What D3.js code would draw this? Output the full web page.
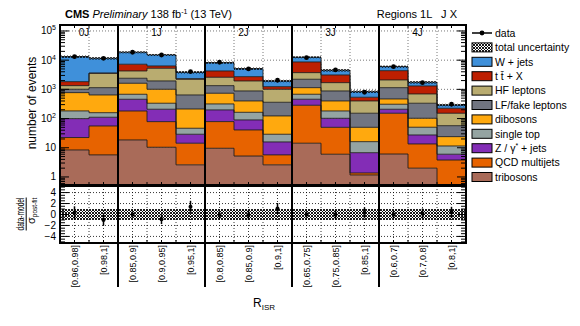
<!DOCTYPE html>
<html>
<head>
<meta charset="utf-8">
<script src="https://cdn.jsdelivr.net/npm/d3@7"></script>
<style>
  body { margin: 0; background: #fff; }
  svg { display: block; font-family: "Liberation Sans", Arial, sans-serif; }
</style>
</head>
<body>
<svg id="chart" width="580" height="326"></svg>
<script>
// categories
const groups = ["0J", "1J", "2J", "3J", "4J"];
const groupSizes = [2, 3, 3, 3, 3];
const binLabels = ["[0.96,0.98]", "[0.98,1]",
  "[0.85,0.9]", "[0.9,0.95]", "[0.95,1]",
  "[0.8,0.85]", "[0.85,0.9]", "[0.9,1]",
  "[0.65,0.75]", "[0.75,0.85]", "[0.85,1]",
  "[0.6,0.7]", "[0.7,0.8]", "[0.8,1]"];

// process yields per bin (stack order: bottom first)
const tribosons = [8.4, 5.7, 18.5, 10.4, 2.6, 9.6, 5.2, 2.6, 14.3, 6.0, 1.17, 6.1, 2.0, 0.3];
const qcdMultijets = [14, 50, 163, 68, 11.7, 69, 35.5, 3.1, 271, 44, 0.2, 146, 11.5, 3.5];
const zJets = [77, 55, 276, 130, 14.7, 119, 49, 10.1, 173, 52, 5.4, 56, 13.9, 2.2];
const singleTop = [83, 48, 221, 126, 17.5, 119, 74, 13.2, 221, 80, 9.4, 101, 23, 5.5];
const dibosons = [590, 484, 939, 674, 166, 419, 237, 94, 464, 219, 34, 160, 52, 12.5];
const lfFake = [236, 500, 781, 932, 430, 604, 480, 238, 1075, 480, 102, 674, 232, 33];
const hfLeptons = [332, 2415, 1867, 3340, 1575, 1257, 1059, 647, 1515, 814, 249, 956, 362, 95];
const ttX = [497, 45, 2978, 1045, 107, 1670, 783, 229, 4941, 1418, 135, 2269, 611, 73];
const wJets = [11344, 8000, 11400, 8745, 1527, 3943, 2391, 703, 3896, 1396, 298, 1619, 443, 67];

const dataYield = [13200, 11600, 18650, 15000, 4036, 8475, 5000, 2050, 12180, 4616, 796, 5987, 1695, 309];
const relUnc = [0.1, 0.1, 0.08, 0.08, 0.1, 0.09, 0.1, 0.1, 0.08, 0.1, 0.1, 0.09, 0.1, 0.1];

// ratio panel: (data-model)/sigma
const pulls = [0.3, -1.0, 0.0, -0.85, 1.4, -0.1, -0.1, 1.1, 0.0, 0.0, 0.3, 0.0, 0.2, 0.4];
const pullErr = [1.2, 1.0, 0.6, 0.9, 1.1, 0.7, 0.9, 1.0, 0.6, 0.8, 1.0, 0.7, 0.9, 1.0];

const yTicks = [1, 10, 1e2, 1e3, 1e4, 1e5];
const rTicks = [-4, -2, 0, 2, 4];

const stack = [
  { name: "tribosons", vals: tribosons, color: "#a96b59" },
  { name: "QCD multijets", vals: qcdMultijets, color: "#e76300" },
  { name: "Z / γ* + jets", vals: zJets, color: "#832db6" },
  { name: "single top", vals: singleTop, color: "#94a4a2" },
  { name: "dibosons", vals: dibosons, color: "#ffa90e" },
  { name: "LF/fake leptons", vals: lfFake, color: "#717581" },
  { name: "HF leptons", vals: hfLeptons, color: "#b9ac70" },
  { name: "t t̄ + X", vals: ttX, color: "#bd1f01" },
  { name: "W + jets", vals: wJets, color: "#3f90da" }
];

const nb = binLabels.length;
const svg = d3.select("#chart");

const x = d3.scaleLinear().domain([0, nb]).range([60, 466]);
const y = d3.scaleLog().domain([0.53, 1.6e5]).range([185, 25]).clamp(true);
const yr = d3.scaleLinear().domain([-5.2, 5.2]).range([243, 186]);

// hatch pattern for uncertainty
const defs = svg.append("defs");
const pat = defs.append("pattern").attr("id", "hatch")
  .attr("patternUnits", "userSpaceOnUse").attr("width", 3).attr("height", 3);
pat.append("path").attr("d", "M0,0L3,3M3,0L0,3")
  .attr("stroke", "#000").attr("stroke-width", 0.9);
defs.append("clipPath").attr("id", "clipMain").append("rect")
  .attr("x", 60).attr("y", 25).attr("width", 406).attr("height", 160);

// group boundaries
const bounds = [0];
groupSizes.forEach(s => bounds.push(bounds[bounds.length - 1] + s));
const innerEdges = d3.range(1, nb).filter(i => !bounds.includes(i));

// ---- main panel grid
const grid = svg.append("g").attr("stroke", "#555").attr("stroke-width", 0.8)
  .attr("stroke-dasharray", "1,2");
grid.selectAll(".h").data(yTicks.slice(1)).join("line")
  .attr("x1", 60).attr("x2", 466).attr("y1", d => y(d)).attr("y2", d => y(d));
grid.selectAll(".v").data(innerEdges).join("line")
  .attr("x1", d => x(d)).attr("x2", d => x(d)).attr("y1", 25).attr("y2", 185);

// ---- stacked histogram
const cum = d3.range(nb).map(() => 0);
const layers = stack.map(s => {
  const pts = d3.range(nb).map(i => {
    const lo = cum[i];
    cum[i] += s.vals[i];
    return { i, lo, hi: cum[i] };
  });
  return { ...s, pts };
});
const total = cum.slice();

const stepPts = pts => pts.flatMap(p => [
  { x: x(p.i), lo: p.lo, hi: p.hi },
  { x: x(p.i + 1), lo: p.lo, hi: p.hi }
]);
const area = d3.area().x(d => d.x).y0(d => y(Math.max(d.lo, 0.53))).y1(d => y(d.hi));
const topLine = d3.line().x(d => d.x).y(d => y(d.hi));

const gStack = svg.append("g").attr("clip-path", "url(#clipMain)");
layers.forEach(l => {
  gStack.append("path").datum(stepPts(l.pts)).attr("d", area).attr("fill", l.color);
});
layers.forEach(l => {
  gStack.append("path").datum(stepPts(l.pts)).attr("d", topLine)
    .attr("fill", "none").attr("stroke", "#1a1a1a").attr("stroke-width", 1).attr("stroke-opacity", 0.85);
});

// uncertainty band on total
gStack.selectAll(".unc").data(d3.range(nb)).join("rect")
  .attr("x", i => x(i)).attr("width", i => x(i + 1) - x(i))
  .attr("y", i => y(total[i] * (1 + relUnc[i])))
  .attr("height", i => y(total[i] * (1 - relUnc[i])) - y(total[i] * (1 + relUnc[i])))
  .attr("fill", "url(#hatch)").attr("opacity", 0.8);

// data points
const gData = svg.append("g");
gData.selectAll("line").data(d3.range(nb)).join("line")
  .attr("x1", i => x(i + 0.5)).attr("x2", i => x(i + 0.5))
  .attr("y1", i => y(dataYield[i] + Math.sqrt(dataYield[i])))
  .attr("y2", i => y(dataYield[i] - Math.sqrt(dataYield[i])))
  .attr("stroke", "#000").attr("stroke-width", 1.5);
gData.selectAll("circle").data(d3.range(nb)).join("circle")
  .attr("cx", i => x(i + 0.5)).attr("cy", i => y(dataYield[i])).attr("r", 2.4).attr("fill", "#000");

// ---- ticks main panel
const axisG = svg.append("g").attr("stroke", "#000").attr("stroke-width", 1);
const minors = [];
for (let e = -1; e <= 5; e++) for (let m = 1; m <= 9; m++) {
  const v = m * Math.pow(10, e);
  if (v >= 0.53 && v <= 1.6e5) minors.push({ v, major: m === 1 });
}
axisG.selectAll(".lt").data(minors).join("line")
  .attr("x1", 60).attr("x2", d => 60 + (d.major ? 9 : 5))
  .attr("y1", d => y(d.v)).attr("y2", d => y(d.v));
axisG.selectAll(".rt").data(minors).join("line")
  .attr("x1", 466).attr("x2", d => 466 - (d.major ? 9 : 5))
  .attr("y1", d => y(d.v)).attr("y2", d => y(d.v));
const xt = d3.range(0, nb + 0.5, 0.5);
axisG.selectAll(".bt").data(xt).join("line")
  .attr("x1", d => x(d)).attr("x2", d => x(d)).attr("y1", 185).attr("y2", 182);
axisG.selectAll(".tt").data(xt).join("line")
  .attr("x1", d => x(d)).attr("x2", d => x(d)).attr("y1", 25).attr("y2", 28);

// y tick labels
const yl = svg.append("g").attr("font-size", 10).attr("text-anchor", "end");
yTicks.forEach(v => {
  const e = Math.round(Math.log10(v));
  const t = yl.append("text").attr("x", 56).attr("y", y(v) + 3.5);
  if (e <= 1) t.text(v);
  else {
    t.append("tspan").text("10");
    t.append("tspan").attr("dy", -4).attr("font-size", 7).text(e);
  }
});

// group labels
svg.append("g").attr("font-size", 10).attr("text-anchor", "middle")
  .selectAll("text").data(groups).join("text")
  .attr("x", (d, k) => x((bounds[k] + bounds[k + 1]) / 2) - 5)
  .attr("y", 36).text(d => d);

// ---- ratio panel
svg.append("rect").attr("x", 60).attr("y", yr(1)).attr("width", 406)
  .attr("height", yr(-1) - yr(1)).attr("fill", "url(#hatch)");
const rgrid = svg.append("g").attr("stroke", "#000").attr("stroke-width", 0.8)
  .attr("stroke-dasharray", "1,2");
rgrid.selectAll(".h").data(rTicks.filter(d => d !== 0)).join("line")
  .attr("x1", 60).attr("x2", 466).attr("y1", d => yr(d)).attr("y2", d => yr(d));
rgrid.selectAll(".v").data(d3.range(0.5, nb, 0.5).filter(d => !bounds.includes(d))).join("line")
  .attr("x1", d => x(d)).attr("x2", d => x(d)).attr("y1", 186).attr("y2", 243);

const rMinor = d3.range(-5, 5.01, 0.5);
axisG.selectAll(".rl").data(rMinor).join("line")
  .attr("x1", 60).attr("x2", d => 60 + (d % 2 === 0 ? 9 : 5))
  .attr("y1", d => yr(d)).attr("y2", d => yr(d));
axisG.selectAll(".rr").data(rMinor).join("line")
  .attr("x1", 466).attr("x2", d => 466 - (d % 2 === 0 ? 9 : 5))
  .attr("y1", d => yr(d)).attr("y2", d => yr(d));
axisG.selectAll(".rb").data(xt).join("line")
  .attr("x1", d => x(d)).attr("x2", d => x(d)).attr("y1", 243).attr("y2", 240);

svg.append("g").attr("font-size", 10).attr("text-anchor", "end")
  .selectAll("text").data(rTicks).join("text")
  .attr("x", 56).attr("y", d => yr(d) + 3.5)
  .text(d => d < 0 ? "\u2212" + Math.abs(d) : d);

const gPull = svg.append("g");
gPull.selectAll("line").data(d3.range(nb)).join("line")
  .attr("x1", i => x(i + 0.5)).attr("x2", i => x(i + 0.5))
  .attr("y1", i => yr(pulls[i] + pullErr[i])).attr("y2", i => yr(pulls[i] - pullErr[i]))
  .attr("stroke", "#000").attr("stroke-width", 1.5);
gPull.selectAll("circle").data(d3.range(nb)).join("circle")
  .attr("cx", i => x(i + 0.5)).attr("cy", i => yr(pulls[i])).attr("r", 2).attr("fill", "#000");

// ---- frames and group separators
const frames = svg.append("g").attr("fill", "none").attr("stroke", "#000").attr("stroke-width", 2);
frames.append("rect").attr("x", 60).attr("y", 25).attr("width", 406).attr("height", 160);
frames.append("rect").attr("x", 60).attr("y", 186).attr("width", 406).attr("height", 57);
frames.selectAll(".sep").data(bounds.slice(1, -1)).join("line")
  .attr("x1", d => x(d)).attr("x2", d => x(d)).attr("y1", 25).attr("y2", 287);

// x bin labels
svg.append("g").attr("font-size", 9).attr("text-anchor", "end")
  .selectAll("text").data(binLabels).join("text")
  .attr("transform", (d, i) => `translate(${x(i + 0.5) + 3},245) rotate(-90)`)
  .text(d => d);

// axis titles
const xTitle = svg.append("text").attr("x", 253).attr("y", 307).attr("font-size", 12);
xTitle.append("tspan").text("R");
xTitle.append("tspan").attr("dy", 3).attr("font-size", 8).text("ISR");

svg.append("text").attr("transform", "translate(36,103) rotate(-90)")
  .attr("text-anchor", "middle").attr("font-size", 12).text("number of events");

const rt = svg.append("g").attr("transform", "translate(24,214) rotate(-90)");
rt.append("text").attr("x", 0).attr("y", 0).attr("text-anchor", "middle").attr("font-size", 11.5)
  .attr("textLength", 33).attr("lengthAdjust", "spacingAndGlyphs").text("data-model");
rt.append("line").attr("x1", -16.5).attr("x2", 16.5).attr("y1", 2.2).attr("y2", 2.2)
  .attr("stroke", "#000").attr("stroke-width", 1);
const sig = rt.append("text").attr("x", -10).attr("y", 11).attr("font-size", 11);
sig.append("tspan").text("σ");
sig.append("tspan").attr("dy", 2).attr("font-size", 6.5).text("post-fit");

// title
const title = svg.append("text").attr("x", 65).attr("y", 18).attr("font-size", 11);
title.append("tspan").attr("font-weight", "bold").text("CMS ");
title.append("tspan").attr("font-style", "italic").text("Preliminary");
title.append("tspan").text(" 138 fb");
title.append("tspan").attr("dy", -4).attr("font-size", 7).text("-1");
title.append("tspan").attr("dy", 4).text(" (13 TeV)");
svg.append("text").attr("x", 457).attr("y", 18).attr("font-size", 11)
  .attr("text-anchor", "end").style("white-space", "pre").text("Regions 1L   J X");

// ---- legend
const leg = svg.append("g").attr("font-size", 10.5);
const legItems = [{ name: "data", type: "data" }, { name: "total uncertainty", type: "unc" }]
  .concat(stack.slice().reverse().map(s => ({ name: s.name, type: "fill", color: s.color })));
legItems.forEach((it, k) => {
  const cy = 33 + k * 14.4;
  const g = leg.append("g");
  if (it.type === "data") {
    g.append("line").attr("x1", 472).attr("x2", 492).attr("y1", cy).attr("y2", cy)
      .attr("stroke", "#000").attr("stroke-width", 1.5);
    g.append("circle").attr("cx", 482).attr("cy", cy).attr("r", 2.4).attr("fill", "#000");
  } else {
    g.append("rect").attr("x", 472).attr("y", cy - 4.5).attr("width", 20).attr("height", 9)
      .attr("fill", it.type === "unc" ? "url(#hatch)" : it.color)
      .attr("stroke", "#000").attr("stroke-width", 1);
  }
  const t = g.append("text").attr("x", 495).attr("y", cy + 3.7);
  if (it.name.startsWith("Z / γ")) {
    t.append("tspan").text("Z / γ");
    t.append("tspan").attr("dy", -4).attr("font-size", 7).text("*");
    t.append("tspan").attr("dy", 4).text(" + jets");
  } else t.text(it.name);
});
</script>
</body>
</html>
